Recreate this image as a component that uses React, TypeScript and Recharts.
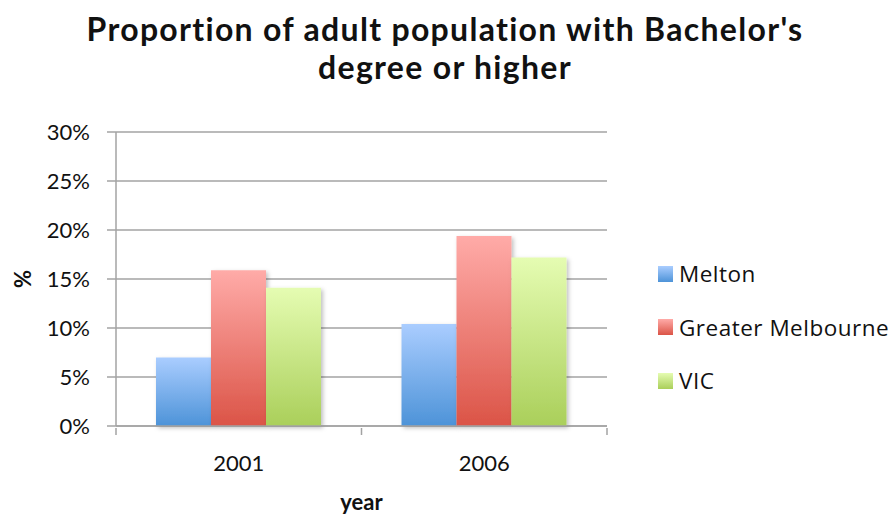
import React from 'react'
import { BarChart, Bar, XAxis, YAxis, CartesianGrid, Label } from 'recharts'

const years = ['2001', '2006']
const melton = [7.0, 10.4]
const greaterMelbourne = [15.9, 19.4]
const vic = [14.1, 17.2]
const yTicks = [0, 5, 10, 15, 20, 25, 30]

const series = [
  { key: 'melton', name: 'Melton', top: '#aacdff', bottom: '#4d93d8' },
  { key: 'greaterMelbourne', name: 'Greater Melbourne', top: '#ffaba8', bottom: '#db5447' },
  { key: 'vic', name: 'VIC', top: '#e5fcb2', bottom: '#aacf5a' },
]

const data = years.map((year, i) => ({
  year,
  melton: melton[i],
  greaterMelbourne: greaterMelbourne[i],
  vic: vic[i],
}))

const FONT = 'Lato, "Open Sans", sans-serif'
const AXIS_GREY = '#a3a3a3'

// category axis: label under the band centre, tick marks on band edges
function YearTick(props: any) {
  const { x, y, payload, index } = props
  const half = payload.offset ?? 0
  return (
    <g>
      <line x1={x - half} x2={x - half} y1={y} y2={y + 7} stroke={AXIS_GREY} strokeWidth={1.5} />
      {index === years.length - 1 && (
        <line x1={x + half} x2={x + half} y1={y} y2={y + 7} stroke={AXIS_GREY} strokeWidth={1.5} />
      )}
      <text x={x} y={y + 43} textAnchor="middle" fontSize={22} fill="#111" fontFamily={FONT}>
        {payload.value}
      </text>
    </g>
  )
}

function LegendBox() {
  return (
    <div
      style={{
        position: 'absolute',
        left: 658,
        top: 247,
        fontFamily: '"Open Sans", sans-serif',
        fontSize: 22.5,
        letterSpacing: 0.5,
        color: '#111',
      }}
    >
      {series.map((s) => (
        <div key={s.key} style={{ display: 'flex', alignItems: 'center', height: 53.5 }}>
          <span
            style={{
              width: 15,
              height: 16,
              marginRight: 6,
              background: `linear-gradient(${s.top}, ${s.bottom})`,
            }}
          />
          <span>{s.name}</span>
        </div>
      ))}
    </div>
  )
}

export default function App() {
  return (
    <div style={{ position: 'fixed', left: 0, top: 0, width: 890, height: 514, background: '#fff' }}>
      <div
        style={{
          position: 'absolute',
          left: 0,
          top: 10,
          width: 890,
          textAlign: 'center',
          fontFamily: FONT,
          fontWeight: 700,
          fontSize: 32,
          letterSpacing: 1.3,
          lineHeight: '38px',
          color: '#111',
        }}
      >
        Proportion of adult population with Bachelor's
        <br />
        degree or higher
      </div>
      <BarChart
        width={890}
        height={514}
        data={data}
        margin={{ top: 132, right: 283, bottom: 0, left: 0 }}
        barCategoryGap={40}
        barGap={0}
      >
        <defs>
          {series.map((s) => (
            <linearGradient key={s.key} id={`grad-${s.key}`} x1="0" y1="0" x2="0" y2="1">
              <stop offset="0%" stopColor={s.top} />
              <stop offset="100%" stopColor={s.bottom} />
            </linearGradient>
          ))}
          <filter id="barShadow" x="-20%" y="-20%" width="150%" height="150%">
            <feDropShadow dx="2" dy="2" stdDeviation="2" floodColor="#000" floodOpacity="0.25" />
          </filter>
        </defs>
        <CartesianGrid vertical={false} stroke={AXIS_GREY} strokeWidth={1.5} />
        <XAxis
          dataKey="year"
          height={88}
          axisLine={{ stroke: AXIS_GREY, strokeWidth: 1.5 }}
          tickLine={false}
          tickSize={0}
          tick={<YearTick />}
          interval={0}
        >
          <Label
            content={({ viewBox }: any) => (
              <text
                x={viewBox.x + viewBox.width / 2}
                y={viewBox.y + 84}
                textAnchor="middle"
                fontSize={22}
                fontWeight={700}
                fill="#111"
                fontFamily={FONT}
              >
                year
              </text>
            )}
          />
        </XAxis>
        <YAxis
          width={116}
          domain={[0, 30]}
          ticks={yTicks}
          interval={0}
          tickFormatter={(v) => `${v}%`}
          axisLine={{ stroke: AXIS_GREY, strokeWidth: 1.5 }}
          tickLine={{ stroke: AXIS_GREY, strokeWidth: 1.5 }}
          tickSize={9}
          tickMargin={17}
          tick={{ fontSize: 22, fill: '#111', fontFamily: FONT }}
        >
          <Label
            content={({ viewBox }: any) => (
              <text
                x={22}
                y={viewBox.y + viewBox.height / 2}
                transform={`rotate(-90 22 ${viewBox.y + viewBox.height / 2})`}
                textAnchor="middle"
                dominantBaseline="central"
                fontSize={22}
                fontWeight={700}
                fill="#111"
                fontFamily={FONT}
              >
                %
              </text>
            )}
          />
        </YAxis>
        {series.map((s) => (
          <Bar
            key={s.key}
            dataKey={s.key}
            name={s.name}
            fill={`url(#grad-${s.key})`}
            filter="url(#barShadow)"
            isAnimationActive={false}
          />
        ))}
      </BarChart>
      <LegendBox />
    </div>
  )
}
